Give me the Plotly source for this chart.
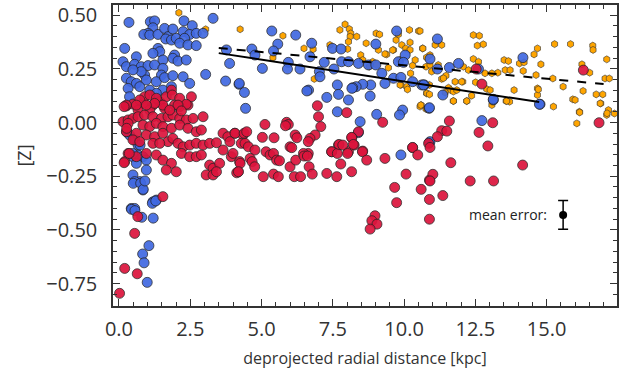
import plotly.graph_objects as go

# metal-poor / inner group (blue)
blue_x = [0.35, 1.10, 1.25, 1.19, 1.02, 0.87, 1.08, 1.37, 1.60, 1.72, 1.64, 1.89, 1.84, 2.01, 2.28, 2.25, 2.57, 2.48,
          2.30, 2.71, 2.95, 3.30, 2.13, 2.42, 2.71, 1.37, 1.43, 1.19, 1.95, 1.89, 1.54, 2.07, 2.36, 0.14, 0.26, 0.61,
          0.55, 0.78, 1.02, 1.25, 1.54, 1.49, 0.90, 0.78, 0.26, 0.43, 0.61, 0.73, 0.96, 1.31, 1.60, 1.89, 2.25, 2.48,
          1.84, 1.54, 0.32, 0.37, 1.08, 3.04, 3.88, 3.74, 4.21, 3.77, 0.20, 1.31, 0.49,
          0.37, 0.55, 0.67, 0.49, 0.67, 0.84, 0.96, 0.61, 0.96, 0.49, 0.73, 0.55, 0.84, 1.19, 1.31, 0.43, 0.55,
          0.27, 0.74, 0.48,
          0.44, 0.56, 0.80, 1.20, 1.17, 1.29, 1.05, 0.83, 0.88, 0.99, 0.50, 0.76, 0.85, 0.91,
          5.36, 6.20, 6.76, 5.57, 5.42, 4.66, 4.77, 5.03, 5.94, 5.91, 6.35, 6.70, 7.03, 7.05, 7.20, 7.49, 7.79, 7.54,
          7.81, 8.05, 8.40, 8.75, 9.01, 9.01, 9.22, 9.74, 9.80, 10.04, 9.98, 9.63, 9.89, 10.30, 10.62, 10.71, 9.33,
          8.83, 8.55, 8.32, 8.20, 7.66, 7.70, 8.05, 7.29, 6.65, 6.59, 4.22, 4.40, 4.44, 7.66, 8.46, 9.04, 9.95, 9.84,
          8.40, 9.89, 8.81, 8.17,
          10.88, 10.89, 12.73, 13.13, 14.77,
          11.17, 10.91, 11.17, 11.59, 11.91, 12.61, 14.17, 10.68, 11.36, 10.89, 13.13, 14.75, 10.91]
blue_y = [0.466, 0.469, 0.473, 0.441, 0.415, 0.410, 0.407, 0.410, 0.438, 0.400, 0.389, 0.435, 0.384, 0.392, 0.473,
          0.423, 0.451, 0.410, 0.392, 0.415, 0.415, 0.485, 0.369, 0.361, 0.358, 0.345, 0.330, 0.322, 0.314, 0.299,
          0.291, 0.286, 0.291, 0.283, 0.260, 0.306, 0.271, 0.260, 0.265, 0.268, 0.252, 0.221, 0.221, 0.237, 0.206,
          0.190, 0.182, 0.167, 0.198, 0.190, 0.209, 0.218, 0.213, 0.182, 0.167, 0.151, 0.159, 0.120, 0.151, 0.224,
          0.275, 0.193, 0.178, 0.338, 0.345, 0.136, 0.245,
          -0.058, -0.081, -0.105, -0.159, -0.151, -0.159, -0.175, -0.190, -0.221, -0.244, -0.275, -0.275, -0.314,
          -0.369, -0.361, -0.400, -0.400,
          -0.043, -0.105, -0.144,
          -0.404, -0.410, -0.441, -0.445, -0.376, -0.365, -0.573, -0.612, -0.653, -0.744, -0.283, -0.283, -0.311,
          -0.272,
          0.426, 0.407, 0.369, 0.365, 0.333, 0.342, 0.314, 0.252, 0.280, 0.249, 0.249, 0.306, 0.237, 0.213, 0.280,
          0.345, 0.342, 0.249, 0.283, 0.283, 0.275, 0.268, 0.365, 0.268, 0.229, 0.426, 0.283, 0.314, 0.280, 0.206,
          0.210, 0.190, 0.175, 0.175, 0.182, 0.175, 0.178, 0.167, 0.162, 0.175, 0.131, 0.105, 0.117, 0.151, 0.147,
          0.182, 0.140, 0.066, 0.050, 0.004, 0.038, 0.058, 0.035, -0.047, -0.151, 0.123, 0.159,
          0.066, -0.094, 0.009, 0.105, 0.085,
          0.389, 0.296, 0.249, 0.256, 0.275, 0.249, 0.302, 0.175, 0.128, 0.069, 0.108, 0.085, -0.089]

# metal-rich group (red)
red_x = [0.26, 0.49, 0.84, 1.19, 1.43, 1.60, 1.95, 2.13, 2.42, 1.08, 0.67, 0.14, 0.32, 0.49, 0.67, 0.90, 1.19, 1.49,
         1.72, 1.89, 2.13, 2.36, 2.60, 2.95, 0.32, 0.84, 1.08, 1.31, 1.54, 1.84, 2.13, 2.42, 2.71, 2.89, 4.06, 4.35,
         3.65, 3.82, 0.26, 0.61, 0.96, 1.25, 1.54, 1.72, 1.89, 2.07, 2.25, 2.48, 2.71, 2.95, 3.18, 3.42, 0.49, 0.73,
         1.19, 1.43, 3.65, 3.94, 4.29, 0.32, 0.61, 0.96, 1.31, 1.54, 1.84, 2.19, 2.48, 2.71, 2.89, 3.18, 3.30, 3.53,
         4.00, 4.23, 0.20, 2.01, 1.66, 3.06, 3.30, 3.42, 4.18, 1.54,
         0.90, 1.08, 1.31, 1.66, 1.84, 1.87, 2.13, 2.54, 2.36, 2.07, 1.54, 1.25, 0.73, 0.61, 0.26, 0.96, 1.78, 2.19,
         0.18, 0.27, 0.36, 0.18,
         0.66, 0.55, 0.20, 0.64, 0.02,
         6.96, 7.00, 7.08, 7.99, 9.25, 8.40, 5.12, 5.88, 5.94, 5.84, 4.07, 4.39, 4.48, 5.03, 5.44, 6.18, 6.24, 6.88,
         6.70, 6.64, 4.42, 4.54, 4.77, 5.16, 6.00, 6.06, 3.89, 7.70, 8.17, 8.25, 8.55, 8.05, 7.46, 10.30, 10.86, 6.64,
         6.47,
         5.30, 5.42, 5.53, 5.63, 4.60, 4.67, 4.76, 4.25, 4.13, 4.19, 5.06, 5.42, 5.59, 6.00, 6.20, 6.49, 6.61, 6.67,
         6.78, 6.15, 6.37, 7.29, 7.64, 7.46, 7.66, 7.72, 7.85, 8.02, 7.78, 8.16, 8.22, 8.54, 8.69, 8.16, 9.33, 10.07,
         10.30, 10.48, 9.67, 9.74, 10.60, 8.98, 8.87, 9.05, 8.81, 10.89, 10.89, 10.89,
         11.59, 11.32, 11.50, 11.17, 11.01, 10.91, 11.36, 11.64, 12.63, 13.11, 12.94, 12.32, 13.14, 14.16, 16.84,
         12.53, 12.73, 16.29, 10.91]
red_y = [0.077, 0.086, 0.089, 0.081, 0.097, 0.066, 0.081, 0.074, 0.081, 0.058, 0.058, 0.004, 0.012, 0.019, 0.027,
         0.035, 0.027, 0.019, 0.027, 0.035, 0.019, 0.012, 0.019, 0.027, -0.004, -0.012, -0.019, -0.004, -0.019,
         -0.027, -0.012, -0.027, -0.043, -0.035, -0.050, -0.058, -0.050, -0.066, -0.043, -0.050, -0.058, -0.066,
         -0.050, -0.089, -0.074, -0.097, -0.113, -0.105, -0.097, -0.105, -0.097, -0.094, -0.081, -0.089, -0.097,
         -0.097, -0.128, -0.159, -0.097, -0.144, -0.159, -0.144, -0.151, -0.175, -0.190, -0.144, -0.159, -0.159,
         -0.151, -0.198, -0.213, -0.190, -0.144, -0.182, -0.182, -0.229, -0.221, -0.244, -0.244, -0.229, -0.229,
         -0.345,
         0.120, 0.128, 0.113, 0.120, 0.151, 0.128, 0.113, 0.120, 0.085, 0.081, 0.081, 0.089, 0.105, 0.081, 0.081,
         0.081, 0.058, 0.054,
         0.074, -0.027, -0.144, -0.187,
         -0.438, -0.516, -0.679, -0.704, -0.795,
         0.078, 0.027, -0.019, 0.046, 0.001, -0.043, -0.009, 0.001, -0.009, -0.015, -0.050, -0.050, -0.043, -0.069,
         -0.071, -0.058, -0.071, -0.058, -0.074, -0.089, -0.097, -0.113, -0.128, -0.136, -0.113, -0.117, -0.089,
         -0.105, -0.071, -0.105, -0.133, -0.136, -0.136, -0.117, -0.097, -0.144, -0.144,
         -0.151, -0.144, -0.175, -0.178, -0.167, -0.182, -0.206, -0.190, -0.234, -0.229, -0.252, -0.240, -0.252,
         -0.206, -0.175, -0.156, -0.156, -0.206, -0.240, -0.252, -0.252, -0.237, -0.252, -0.136, -0.144, -0.102,
         -0.105, -0.144, -0.193, -0.069, -0.102, -0.136, -0.175, -0.229, -0.167, -0.240, -0.116, -0.151, -0.302,
         -0.373, -0.311, -0.434, -0.457, -0.473, -0.496, -0.268, -0.358, -0.450,
         0.007, -0.038, -0.040, -0.066, -0.241, -0.272, -0.340, -0.187, -0.046, -0.001, -0.109, -0.272, -0.272,
         -0.198, -0.001, 0.249, 0.179, 0.244, -0.116]

# outer disc comparison sample (orange)
orange_x = [2.10, 3.04, 4.25, 5.75, 6.49, 6.81, 5.40, 6.85,
            7.40, 7.75, 7.93, 8.08, 8.13, 8.11, 8.34, 8.05, 8.02, 8.67, 9.02, 9.14, 9.10, 8.48, 8.55, 8.90, 8.78,
            9.04, 9.39, 9.45, 9.63, 9.72, 9.80, 9.85, 9.92, 10.21, 10.06, 10.21, 10.19, 10.51, 10.30, 10.39, 10.23,
            10.65, 10.79, 10.89, 10.79, 10.60, 10.09, 9.89, 10.77, 9.33, 9.60, 9.86, 10.12, 10.56,
            10.66, 11.09, 11.32, 10.91, 10.77, 10.91, 11.20, 10.97, 11.32, 11.47, 10.80, 10.89, 11.79, 12.06, 11.56,
            11.64, 11.73, 11.85, 11.44, 11.73, 12.20, 12.37, 12.08, 12.26, 12.43, 12.64, 12.57, 12.78, 12.43, 12.61,
            12.51, 12.90, 13.02, 12.84, 13.29, 13.08, 13.51, 13.66, 13.55, 13.72, 14.18, 14.05, 14.21, 13.86, 13.58,
            13.70, 14.56, 14.68, 14.80, 14.63, 14.68, 14.68, 14.71, 15.22, 15.24, 15.28, 15.58, 15.84, 15.92, 16.15,
            16.06, 16.24, 16.28, 16.51, 16.62, 16.63, 16.74, 16.97, 16.90, 17.05, 17.20, 17.11, 17.17, 17.11, 17.38,
            10.56, 11.38, 12.02,
            10.59, 11.73, 12.20, 13.08, 13.60, 16.16, 16.88, 17.12, 16.00]
orange_y = [0.511, 0.434, 0.434, 0.404, 0.345, 0.341, 0.302, 0.203,
            0.361, 0.431, 0.457, 0.435, 0.415, 0.400, 0.400, 0.376, 0.342, 0.369, 0.415, 0.410, 0.338, 0.314, 0.291,
            0.283, 0.260, 0.268, 0.317, 0.255, 0.338, 0.384, 0.410, 0.291, 0.361, 0.373, 0.345, 0.338, 0.431, 0.426,
            0.265, 0.291, 0.229, 0.345, 0.303, 0.175, 0.136, 0.081, 0.167, 0.175, 0.063, 0.319, 0.337, 0.175, 0.154,
            0.074,
            0.345, 0.361, 0.361, 0.314, 0.260, 0.268, 0.268, 0.237, 0.203, 0.218, 0.136, 0.131, 0.190, 0.190, 0.162,
            0.151, 0.144, 0.151, 0.140, 0.100, 0.100, 0.125, 0.260, 0.244, 0.407, 0.404, 0.358, 0.364, 0.296, 0.283,
            0.187, 0.156, 0.151, 0.229, 0.232, 0.229, 0.291, 0.286, 0.244, 0.244, 0.240, 0.275, 0.280, 0.151, 0.100,
            0.097, 0.317, 0.345, 0.271, 0.221, 0.159, 0.128, 0.154, 0.205, 0.074, 0.365, 0.167, 0.365, 0.108, 0.050,
            -0.004, 0.271, 0.147, 0.232, 0.358, 0.338, 0.131, 0.131, 0.089, 0.205, 0.205, 0.294, 0.058, 0.035, 0.042,
            0.426, 0.206, 0.190,
            0.081, 0.100, 0.100, 0.081, 0.100, 0.047, 0.089, 0.043, 0.105]

# gradient fits
fit_solid_x = [3.50, 14.74]
fit_solid_y = [0.323, 0.095]
fit_dash_x = [3.50, 17.00]
fit_dash_y = [0.347, 0.179]

# mean error
err_x = [15.58]
err_y = [-0.43]
err_size = [0.067]

fig = go.Figure()
fig.add_trace(go.Scatter(x=orange_x, y=orange_y, mode="markers",
                         marker=dict(symbol="hexagon", size=7, color="orange",
                                     line=dict(color="#333333", width=0.6))))
fig.add_trace(go.Scatter(x=blue_x, y=blue_y, mode="markers",
                         marker=dict(symbol="circle", size=10, color="royalblue", opacity=0.92,
                                     line=dict(color="#222222", width=0.8))))
fig.add_trace(go.Scatter(x=red_x, y=red_y, mode="markers",
                         marker=dict(symbol="circle", size=10, color="crimson", opacity=0.92,
                                     line=dict(color="#222222", width=0.8))))
fig.add_trace(go.Scatter(x=fit_solid_x, y=fit_solid_y, mode="lines",
                         line=dict(color="black", width=2)))
fig.add_trace(go.Scatter(x=fit_dash_x, y=fit_dash_y, mode="lines",
                         line=dict(color="black", width=2, dash="dash")))
fig.add_trace(go.Scatter(x=err_x, y=err_y, mode="markers",
                         marker=dict(color="black", size=8),
                         error_y=dict(type="data", array=err_size, color="black", thickness=1.5, width=5)))

fig.add_annotation(x=err_x[0], y=err_y[0], text="mean error:", showarrow=False,
                   xanchor="right", xshift=-14, font=dict(size=14, color="#222222"))

axis_common = dict(showline=True, mirror="ticks", linecolor="#333333", linewidth=1.5,
                   ticks="inside", ticklen=7, tickwidth=1.2, tickcolor="#333333",
                   showgrid=False, zeroline=False, automargin=False,
                   tickfont=dict(size=20, color="#333333"))

fig.update_xaxes(range=[-0.21, 17.47], dtick=2.5, tick0=0, tickformat=".1f",
                 minor=dict(dtick=0.5, ticks="inside", ticklen=4, tickcolor="#333333"),
                 title=dict(text="deprojected radial distance [kpc]", font=dict(size=16, color="#333333"),
                            standoff=12),
                 ticklabelstandoff=4,
                 **axis_common)
fig.update_yaxes(range=[-0.854, 0.547], dtick=0.25, tick0=0, tickformat=".2f",
                 minor=dict(dtick=0.05, ticks="inside", ticklen=4, tickcolor="#333333"),
                 title=dict(text="[Z]", font=dict(size=18, color="#333333"), standoff=10),
                 ticklabelstandoff=10,
                 **axis_common)

fig.update_layout(width=622, height=371, showlegend=False,
                  margin=dict(l=113, r=5, t=5, b=65),
                  plot_bgcolor="white", paper_bgcolor="white",
                  font=dict(family="Open Sans, sans-serif", color="#333333"))

fig.write_html("out.html", config={"displayModeBar": False},
               post_script="document.body.style.margin='0';")
